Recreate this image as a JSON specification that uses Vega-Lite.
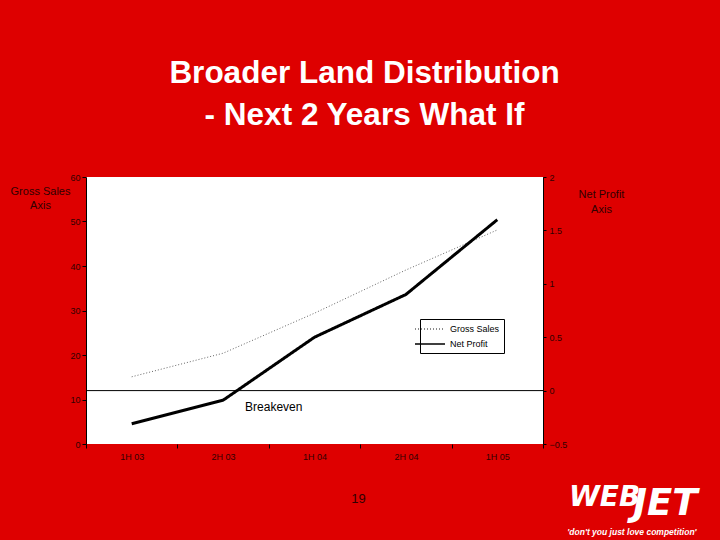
{
  "$schema": "https://vega.github.io/schema/vega-lite/v6.json",
  "width": 457,
  "height": 267,
  "autosize": {"type": "none"},
  "padding": {"left": 86, "top": 177, "right": 177, "bottom": 96},
  "background": "#DE0000",
  "title": {
    "text": ["Broader Land Distribution", "- Next 2 Years What If"],
    "font": "Liberation Sans",
    "fontSize": 31.5,
    "fontWeight": "bold",
    "color": "white",
    "anchor": "middle",
    "frame": "group",
    "lineHeight": 42,
    "baseline": "alphabetic",
    "offset": 17,
    "dx": 50
  },
  "config": {
    "view": {"stroke": null, "fill": "white"},
    "font": "Liberation Sans",
    "axis": {
      "grid": false,
      "labelFont": "Liberation Sans",
      "labelFontSize": 9,
      "labelColor": "#300000",
      "titleFont": "Liberation Sans",
      "titleFontWeight": "normal",
      "titleColor": "#300000",
      "domainColor": "black",
      "tickColor": "black"
    }
  },
  "data": {
    "values": [
      {"period": "1H 03", "series": "Gross Sales", "value": 15.1},
      {"period": "2H 03", "series": "Gross Sales", "value": 20.4},
      {"period": "1H 04", "series": "Gross Sales", "value": 29.4},
      {"period": "2H 04", "series": "Gross Sales", "value": 39.1},
      {"period": "1H 05", "series": "Gross Sales", "value": 48.1},
      {"period": "1H 03", "series": "Net Profit", "value": -0.31},
      {"period": "2H 03", "series": "Net Profit", "value": -0.09},
      {"period": "1H 04", "series": "Net Profit", "value": 0.5},
      {"period": "2H 04", "series": "Net Profit", "value": 0.9},
      {"period": "1H 05", "series": "Net Profit", "value": 1.6}
    ]
  },
  "layer": [
    {
      "transform": [{"filter": "datum.series === 'Gross Sales'"}],
      "mark": {"type": "line", "strokeWidth": 1, "strokeDash": [1, 2]},
      "encoding": {
        "x": {
          "field": "period", "type": "ordinal", "sort": null, "bandPosition": 0.5,
          "scale": {"type": "band", "paddingInner": 0, "paddingOuter": 0},
          "axis": {
            "labelAngle": 0, "domain": false, "tickBand": "extent", "tickSize": 4, "labelPadding": 4,
            "title": "19", "titleFontSize": 13, "titleX": 272, "titleY": 58,
            "titleAlign": "center", "titleBaseline": "alphabetic", "titleAnchor": null
          }
        },
        "y": {
          "field": "value", "type": "quantitative",
          "scale": {"domain": [0, 60], "nice": false},
          "axis": {
            "orient": "left", "values": [0, 10, 20, 30, 40, 50, 60], "tickSize": 4, "labelPadding": 2,
            "title": ["Gross Sales", "Axis"], "titleAngle": 0, "titleFontSize": 11,
            "titleX": -46, "titleY": 8, "titleAlign": "center", "titleBaseline": "top", "titleLineHeight": 14
          }
        },
        "color": {
          "field": "series", "type": "nominal",
          "scale": {"domain": ["Gross Sales", "Net Profit"], "range": ["#666666", "black"]},
          "legend": {
            "orient": "none", "legendX": 334, "legendY": 142, "title": null,
            "fillColor": "white", "strokeColor": "black", "padding": 4,
            "labelFontSize": 9, "labelColor": "black", "labelFont": "Liberation Sans",
            "symbolType": "M-3,0H3", "symbolSize": 100, "labelOffset": 14, "rowPadding": 4
          }
        },
        "strokeDash": {
          "field": "series", "type": "nominal",
          "scale": {"domain": ["Gross Sales", "Net Profit"], "range": [[1, 2], [1, 0]]},
          "legend": null
        }
      }
    },
    {
      "layer": [
        {
          "data": {"values": [{}]},
          "mark": {"type": "rule", "color": "black", "strokeWidth": 1},
          "encoding": {"y": {"datum": 0, "type": "quantitative"}}
        },
        {
          "transform": [{"filter": "datum.series === 'Net Profit'"}],
          "mark": {"type": "line", "strokeWidth": 3, "color": "black"},
          "encoding": {
            "x": {"field": "period", "type": "ordinal", "sort": null, "bandPosition": 0.5},
            "y": {
              "field": "value", "type": "quantitative",
              "scale": {"domain": [-0.5, 2], "nice": false},
              "axis": {
                "orient": "right", "values": [-0.5, 0, 0.5, 1, 1.5, 2], "format": ".1~f",
                "tickSize": 3, "labelPadding": 3,
                "title": ["Net Profit", "Axis"], "titleAngle": 0, "titleFontSize": 11,
                "titleX": 58, "titleY": 11, "titleAlign": "center", "titleBaseline": "top", "titleLineHeight": 15
              }
            },
            "color": {"field": "series", "type": "nominal"},
            "strokeDash": {"field": "series", "type": "nominal"}
          }
        },
        {
          "data": {"values": [{}]},
          "mark": {"type": "text", "align": "left", "baseline": "middle", "fontSize": 12, "color": "black", "dx": 22, "dy": 16},
          "encoding": {
            "x": {"datum": "2H 03", "type": "ordinal", "bandPosition": 0.5},
            "y": {"datum": 0, "type": "quantitative"},
            "text": {"value": "Breakeven"}
          }
        },
        {
          "data": {"values": [{}]},
          "mark": {"type": "text", "align": "right", "baseline": "alphabetic", "font": "DejaVu Sans", "fontSize": 28, "fontWeight": "bold", "fontStyle": "italic", "color": "white", "dx": 143, "dy": -2},
          "encoding": {
            "x": {"datum": "1H 05", "type": "ordinal", "bandPosition": 0.5},
            "y": {"datum": -1.1, "type": "quantitative"},
            "text": {"value": "WEB"}
          }
        },
        {
          "data": {"values": [{}]},
          "mark": {"type": "text", "align": "left", "baseline": "alphabetic", "font": "DejaVu Sans", "fontSize": 37, "fontWeight": "bold", "fontStyle": "italic", "color": "white", "dx": 136, "dy": 7},
          "encoding": {
            "x": {"datum": "1H 05", "type": "ordinal", "bandPosition": 0.5},
            "y": {"datum": -1.1, "type": "quantitative"},
            "text": {"value": "JET"}
          }
        },
        {
          "data": {"values": [{}]},
          "mark": {"type": "text", "align": "left", "baseline": "alphabetic", "font": "Liberation Sans", "fontSize": 8.5, "fontWeight": "bold", "fontStyle": "italic", "color": "white", "dx": 70, "dy": 27},
          "encoding": {
            "x": {"datum": "1H 05", "type": "ordinal", "bandPosition": 0.5},
            "y": {"datum": -1.1, "type": "quantitative"},
            "text": {"value": "'don't you just love competition'"}
          }
        }
      ]
    }
  ],
  "resolve": {"scale": {"y": "independent"}}
}
